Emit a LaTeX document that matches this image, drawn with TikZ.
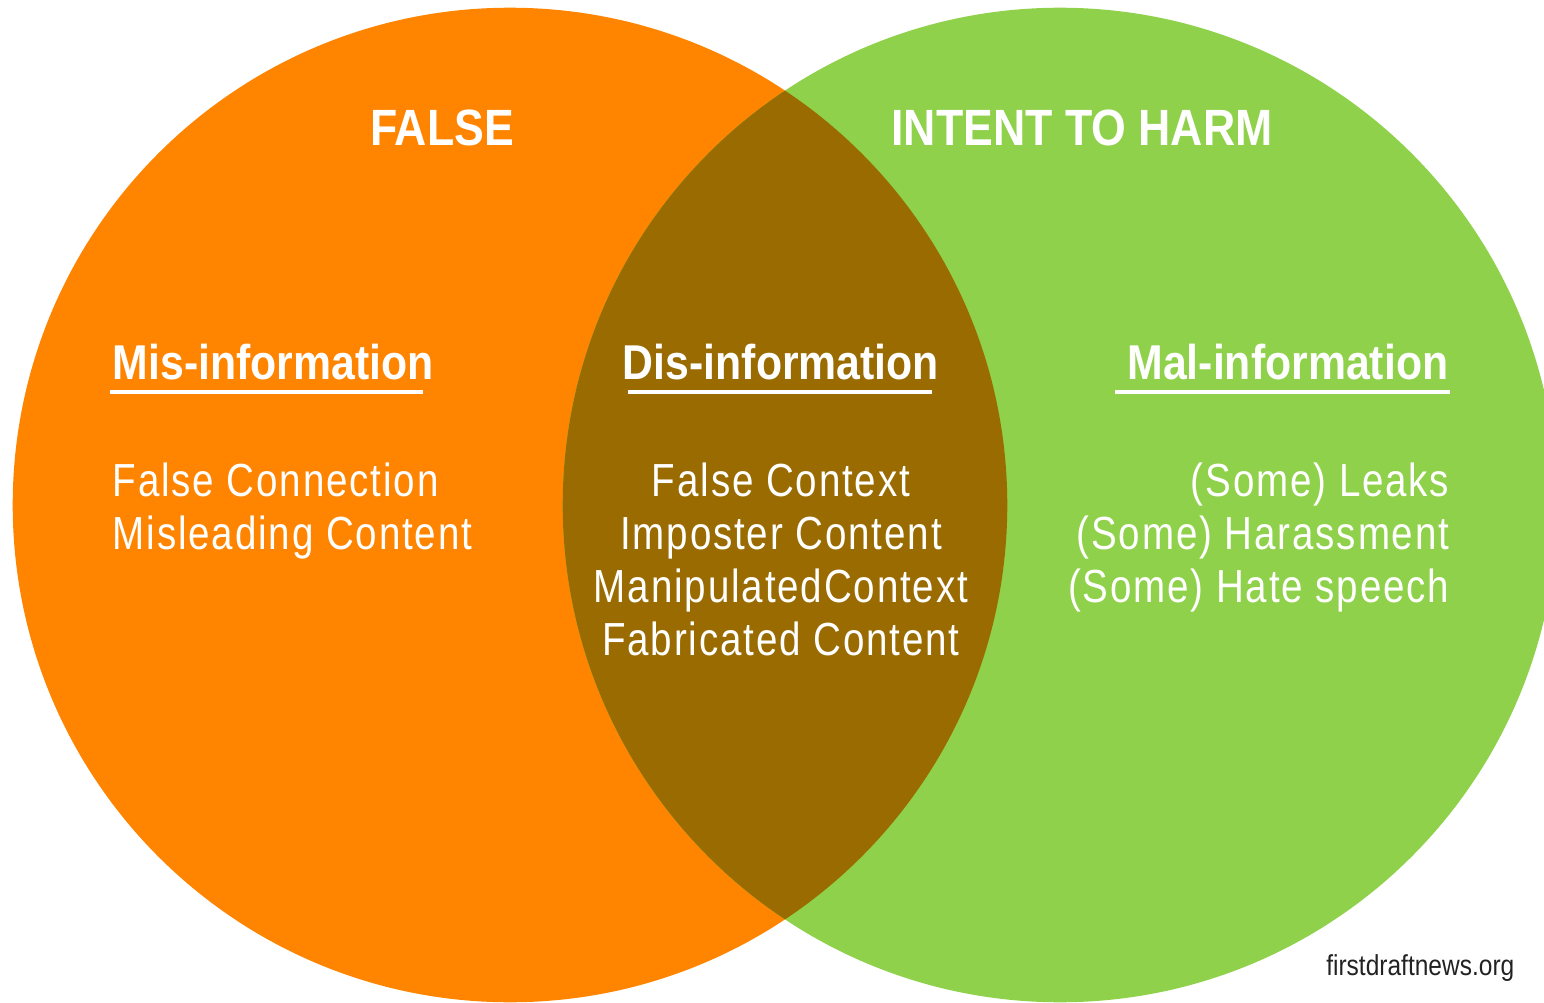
\documentclass[tikz,border=0pt]{standalone}
\usepackage{fontspec}
\setmainfont{Liberation Sans}
\newfontfamily\itemfont[FakeStretch=0.83,LetterSpace=4]{Liberation Sans}
\newfontfamily\headfont[FakeStretch=0.875]{Liberation Sans}
\newfontfamily\notefont[FakeStretch=0.85]{Liberation Sans}
\definecolor{falseorange}{RGB}{255,132,0}
\definecolor{harmgreen}{RGB}{143,209,74}
\definecolor{disbrown}{RGB}{153,107,0}
\definecolor{notegray}{RGB}{34,34,34}

\begin{document}
\begin{tikzpicture}[x=0.01cm,y=-0.01cm,
  head/.style={text=white,inner sep=0pt,font=\headfont\bfseries\fontsize{13.9}{16}\selectfont},
  title/.style={text=white,inner sep=0pt,font=\headfont\bfseries\fontsize{14.5}{16}\selectfont},
  item/.style={text=white,inner sep=0pt,font=\itemfont\fontsize{13.2}{15}\selectfont},
  rule/.style={white,line width=1.1pt}]
\useasboundingbox (0,0) rectangle (1544,1003);

% the two sets and their overlap
\fill[falseorange] (510,505) circle[radius=4.97cm];
\fill[harmgreen] (1060,505) circle[radius=4.97cm];
\begin{scope}
\clip (510,505) circle[radius=4.97cm];
\fill[disbrown] (1060,505) circle[radius=4.97cm];
\end{scope}

\node[title,anchor=base] (false) at (442,146) {FALSE};
\node[title,anchor=base] (harm) at (1082,146) {INTENT TO HARM};

% left
\node[head,anchor=base west] (mis) at (112,379) {Mis-information};
\draw[rule] (110,392) -- (423,392);
\node[item,anchor=base west] (mis1) at (112,496) {False Connection};
\node[item,anchor=base west] (mis2) at (112,549) {Misleading Content};

% middle
\node[head,anchor=base] (dis) at (781,379) {Dis-information};
\draw[rule] (628,392) -- (932,392);
\node[item,anchor=base] (dis1) at (781,496) {False Context};
\node[item,anchor=base] (dis2) at (781,549) {Imposter Content};
\node[item,anchor=base] (dis3) at (781,602) {ManipulatedContext};
\node[item,anchor=base] (dis4) at (781,655) {Fabricated Content};

% right
\node[head,anchor=base east] (mal) at (1449,379) {Mal-information};
\draw[rule] (1115,392) -- (1450,392);
\node[item,anchor=base east] (mal1) at (1450,496) {(Some) Leaks};
\node[item,anchor=base east] (mal2) at (1450,549) {(Some) Harassment};
\node[item,anchor=base east] (mal3) at (1450,602) {(Some) Hate speech};

\node[anchor=base east,inner sep=0pt,text=notegray,font=\notefont\fontsize{8.2}{10}\selectfont] (site) at (1515,975) {firstdraftnews.org};

\end{tikzpicture}
\end{document}
